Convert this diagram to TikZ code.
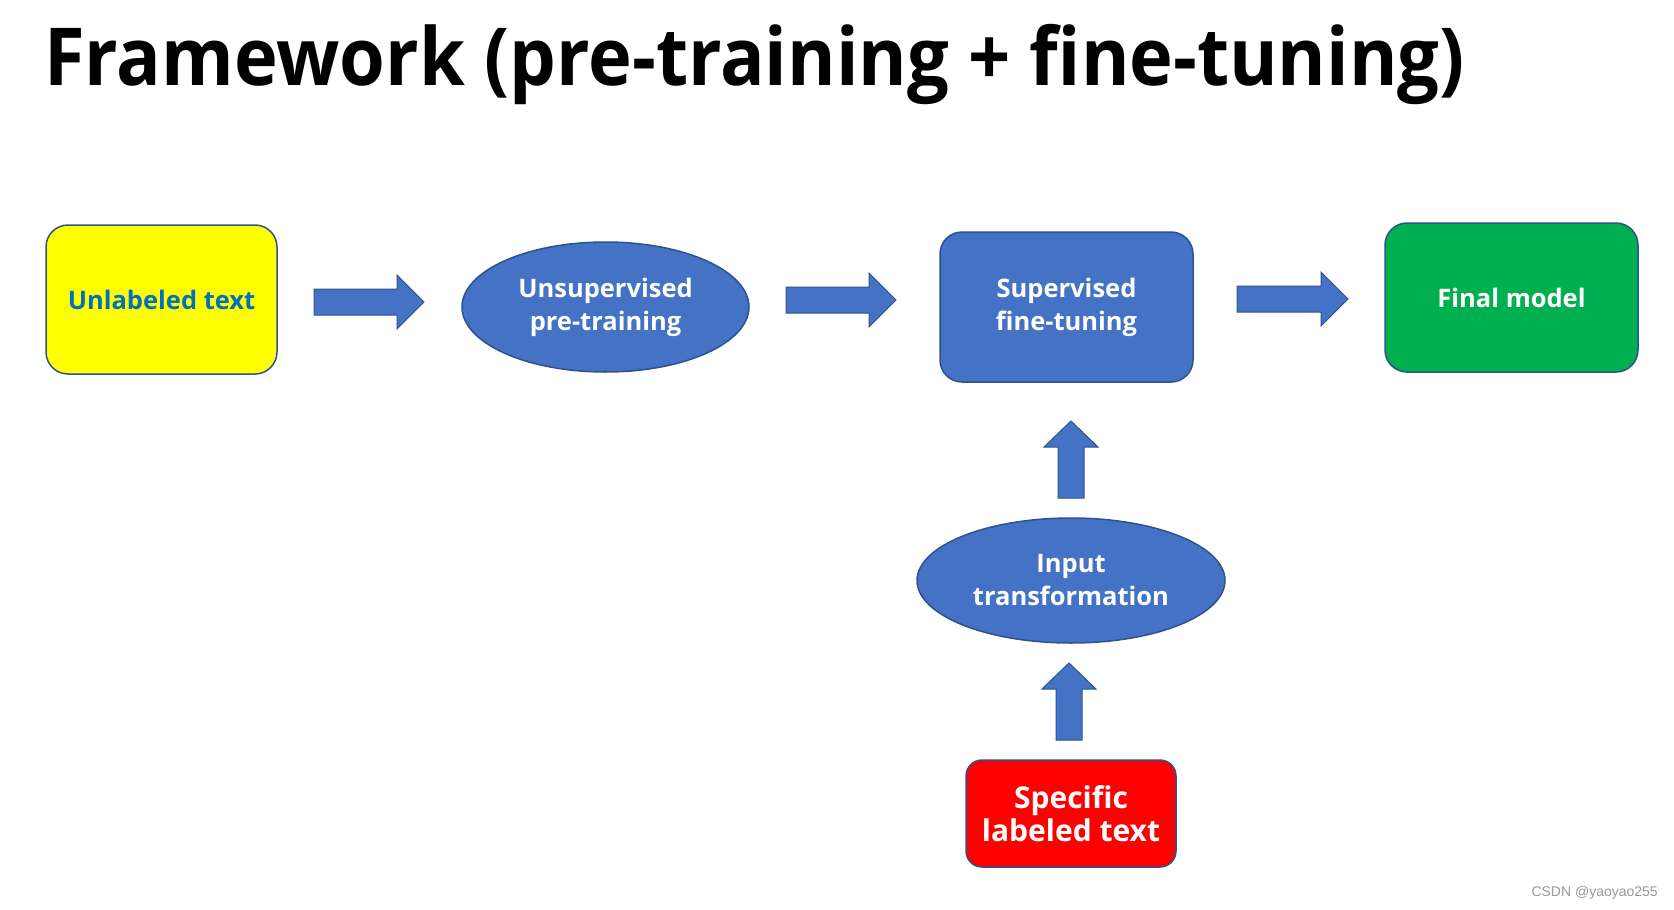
\documentclass[tikz,border=0pt]{standalone}
\usepackage{fontspec}
\setmainfont{Open Sans}
\newfontfamily\wmfont{Liberation Sans}
\usetikzlibrary{shapes.geometric}
\definecolor{pblue}{HTML}{4472C4}
\definecolor{pedge}{HTML}{2F528F}
\definecolor{ptxt}{HTML}{0070C0}
\definecolor{pgreen}{HTML}{00B050}
\definecolor{pred}{HTML}{FF0000}
\definecolor{pyellow}{HTML}{FFFF00}
\newcommand\RArrow[4]{% start, headbase, tip, ycenter
  \fill[pblue,draw=pedge,line width=1pt] (#1,#4-13) -- (#2,#4-13) -- (#2,#4-27) -- (#3,#4) -- (#2,#4+27) -- (#2,#4+13) -- (#1,#4+13) -- cycle;}
\newcommand\UArrow[4]{% xcenter, bottom, headbase, tip
  \fill[pblue,draw=pedge,line width=1pt] (#1-13,#2) -- (#1-13,#3) -- (#1-27,#3) -- (#1,#4) -- (#1+27,#3) -- (#1+13,#3) -- (#1+13,#2) -- cycle;}
\tikzset{
  box/.style={draw=pedge,line width=1.5pt,rounded corners=22pt,inner sep=0pt,align=center,font=\bfseries\fontsize{25.5}{33}\selectfont,text=white},
  oval/.style={ellipse,draw=pedge,line width=1.5pt,fill=pblue,inner sep=0pt,align=center,font=\bfseries\fontsize{25.5}{33}\selectfont,text=white},
}
\begin{document}
\begin{tikzpicture}[x=1pt,y=-1pt]
\useasboundingbox (0,0) rectangle (1674,910);
\fill[white] (0,0) rectangle (1674,910);
\node[anchor=base west,inner sep=0pt,font=\bfseries\fontsize{80}{90}\selectfont] (title) at (44,85) {\scalebox{0.925}[1]{Framework (pre-training + fine-tuning)}};
\node[box,fill=pyellow,text=ptxt,minimum width=231pt,minimum height=149pt] (unl) at (161.5,299.5) {Unlabeled text};
\node[oval,minimum width=287pt,minimum height=130pt] (unsup) at (605.5,307) {Unsupervised\\pre-training};
\node[box,fill=pblue,minimum width=253pt,minimum height=150pt] (sup) at (1066.5,307) {Supervised\\fine-tuning};
\node[box,fill=pgreen,minimum width=253pt,minimum height=149pt] (final) at (1511.5,297.5) {Final model};
\node[oval,minimum width=308pt,minimum height=125pt] (inp) at (1071,580.5) {Input\\transformation};
\node[box,fill=pred,rounded corners=16pt,minimum width=210pt,minimum height=107pt,font=\bfseries\fontsize{30}{33}\selectfont] (spec) at (1071,813.5) {Specific\\labeled text};
\RArrow{314}{397}{424}{302}
\RArrow{786}{869}{896}{300}
\RArrow{1237}{1321}{1348}{299}
\UArrow{1071}{498}{447}{421}
\UArrow{1069}{740}{689}{663}
\node[anchor=east,inner sep=0pt,text=black!40,font=\wmfont\fontsize{14}{16}\selectfont] (wm) at (1658,893) {CSDN @yaoyao255};
\end{tikzpicture}
\end{document}
